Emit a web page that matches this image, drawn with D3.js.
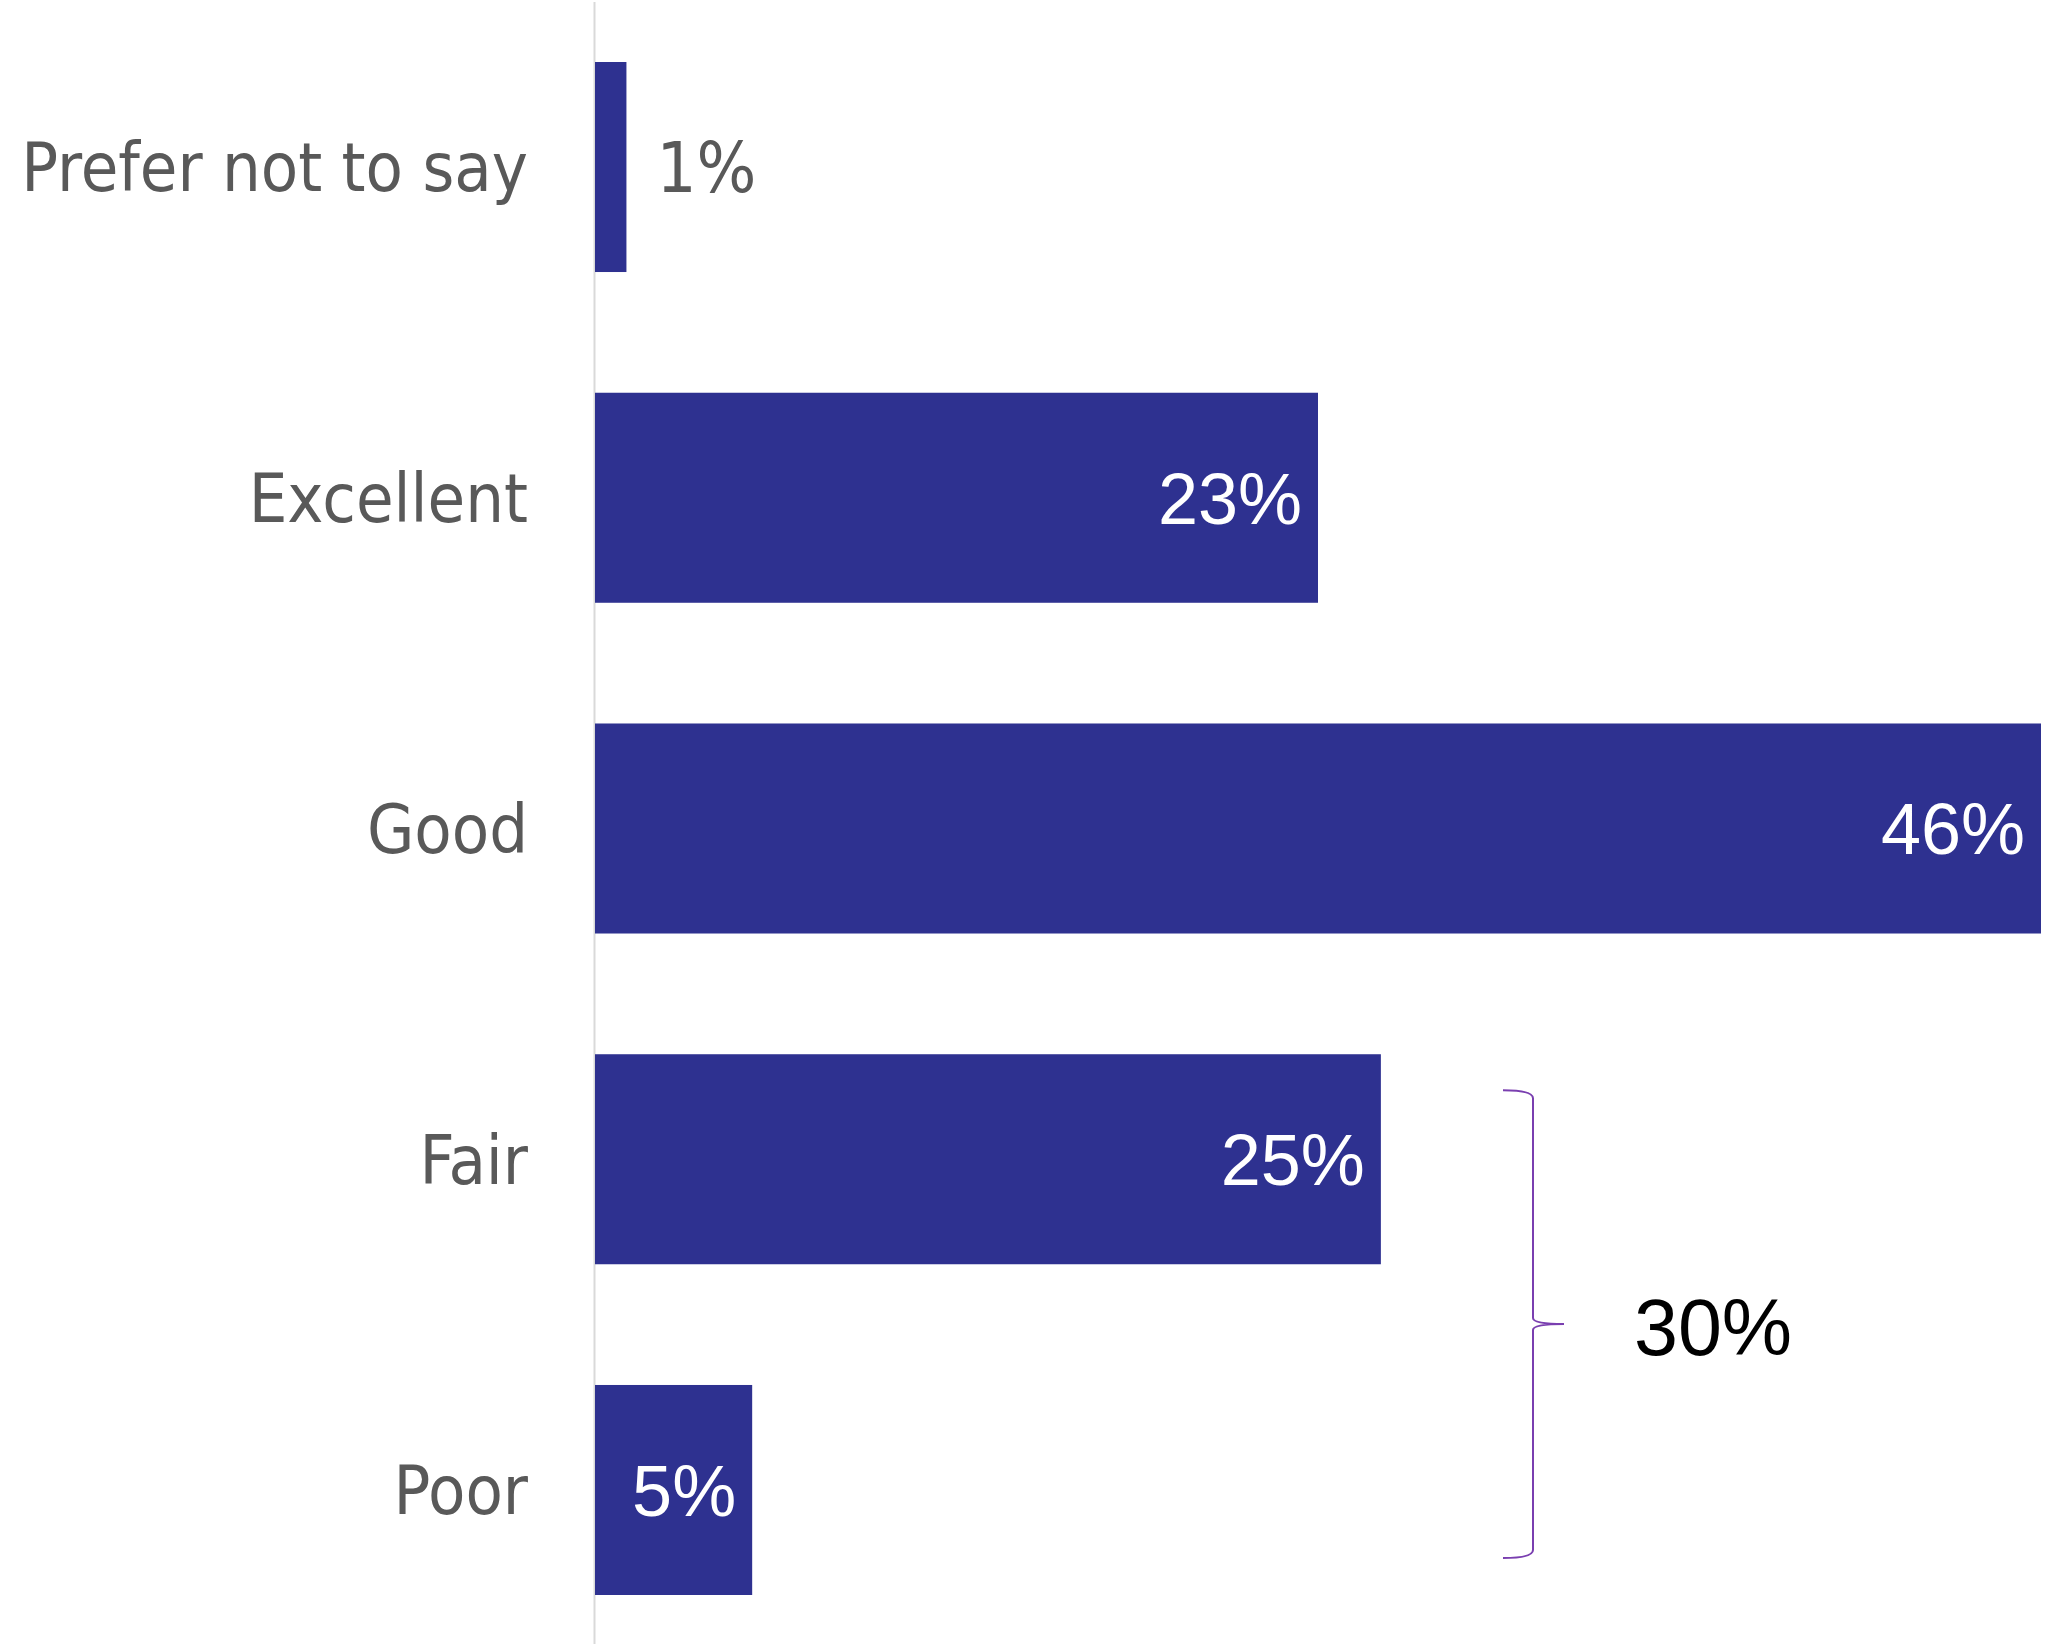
<!DOCTYPE html>
<html>
<head>
<meta charset="utf-8">
<script src="https://cdn.jsdelivr.net/npm/d3@7"></script>
<style>
  html, body { margin: 0; padding: 0; background: #fff; }
  svg { display: block; }
</style>
</head>
<body>
<svg id="chart" width="2060" height="1644"></svg>
<script>
// Self-rated responses, share of respondents (%)
const categories = ["Prefer not to say", "Excellent", "Good", "Fair", "Poor"];
const values = [1, 23, 46, 25, 5];
const valueLabels = ["1%", "23%", "46%", "25%", "5%"];
// Combined share bracketed on the right (Fair + Poor)
const groupedCategories = ["Fair", "Poor"];
const groupedLabel = "30%";

const W = 2060, H = 1644;
const x0 = 595;
const labelFont = "'Liberation Sans Narrow', 'DejaVu Sans Condensed', 'Liberation Sans', sans-serif";
const valueFont = "'Liberation Sans', Arial, sans-serif";
const svg = d3.select("#chart");

const x = d3.scaleLinear().domain([0, 46]).range([x0, 2041]);
const y = d3.scaleBand().domain(categories).range([62, 1595]).paddingInner(0.365).paddingOuter(0);

// baseline
svg.append("line")
  .attr("x1", x0 - 0.5).attr("x2", x0 - 0.5)
  .attr("y1", 2).attr("y2", H)
  .attr("stroke", "#d9d9d9").attr("stroke-width", 2);

// bars
svg.selectAll("rect.bar")
  .data(categories)
  .join("rect")
  .attr("class", "bar")
  .attr("x", x0)
  .attr("y", d => y(d))
  .attr("width", (d, i) => x(values[i]) - x0)
  .attr("height", y.bandwidth())
  .attr("fill", "#2e3190");

// category labels
const yAxis = d3.axisLeft(y).tickSize(0).tickPadding(0);
const gAxis = svg.append("g").attr("transform", `translate(528,0)`).call(yAxis);
gAxis.select(".domain").remove();
gAxis.selectAll("text")
  .attr("fill", "#595959")
  .attr("font-family", labelFont)
  .attr("font-size", 68)
  .attr("dy", "0.36em");

// value labels: inside bar end when there's room, otherwise just after
svg.selectAll("text.val")
  .data(categories)
  .join("text")
  .attr("class", "val")
  .attr("dy", "0.36em")
  .attr("y", d => y(d) + y.bandwidth() / 2)
  .each(function (d, i) {
    const inside = values[i] >= 3;
    d3.select(this)
      .attr("x", inside ? x(values[i]) - 16 : x(values[i]) + 30)
      .attr("text-anchor", inside ? "end" : "start")
      .attr("fill", inside ? "#ffffff" : "#595959")
      .attr("font-family", inside ? valueFont : labelFont)
      .attr("font-size", inside ? 72 : 70)
      .text(valueLabels[i]);
  });

// bracket spanning the grouped bars
const bTop = y(groupedCategories[0]) + 36;
const bBot = y(groupedCategories[groupedCategories.length - 1]) + y.bandwidth() - 37;
const bMid = (bTop + bBot) / 2;
const bx0 = 1503, bx1 = 1533, bx2 = 1564;
const r = 6;
const brace = d3.path();
brace.moveTo(bx0, bTop);
brace.quadraticCurveTo(bx1, bTop, bx1, bTop + r + 2);
brace.lineTo(bx1, bMid - r);
brace.quadraticCurveTo(bx1, bMid, bx2, bMid);
brace.quadraticCurveTo(bx1, bMid, bx1, bMid + r);
brace.lineTo(bx1, bBot - r - 2);
brace.quadraticCurveTo(bx1, bBot, bx0, bBot);
svg.append("path")
  .attr("d", brace.toString())
  .attr("fill", "none")
  .attr("stroke", "#7a3fb0")
  .attr("stroke-width", 2);

svg.append("text")
  .attr("x", 1634)
  .attr("y", bMid + 31)
  .attr("font-family", valueFont)
  .attr("font-size", 79)
  .attr("fill", "#000")
  .text(groupedLabel);
</script>
</body>
</html>
